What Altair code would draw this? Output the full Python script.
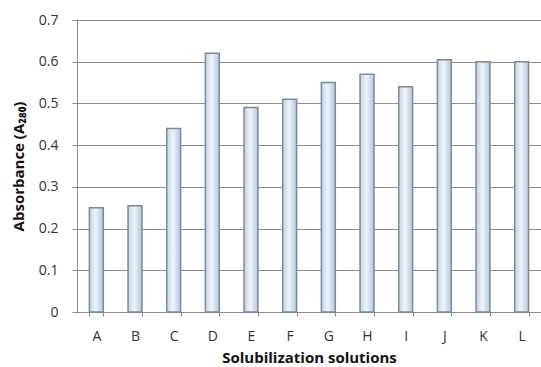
import altair as alt
import pandas as pd

categories = ["A", "B", "C", "D", "E", "F", "G", "H", "I", "J", "K", "L"]
values = [0.25, 0.255, 0.44, 0.62, 0.49, 0.51, 0.55, 0.57, 0.54, 0.605, 0.60, 0.60]
y_ticks = [0, 0.1, 0.2, 0.3, 0.4, 0.5, 0.6, 0.7]

df = pd.DataFrame({"cat": categories, "val": values})

FONT = "Open Sans"
grad = alt.LinearGradient(
    gradient="linear", x1=0, x2=1, y1=0, y2=0,
    stops=[
        alt.GradientStop(offset=0, color="#c3d2e6"),
        alt.GradientStop(offset=0.45, color="#eef3fa"),
        alt.GradientStop(offset=1, color="#b4c7df"),
    ],
)

chart = alt.Chart(df).mark_bar(
    color=grad, stroke="#7d8a98", strokeWidth=1.5
).encode(
    x=alt.X("cat:N", sort=categories,
            scale=alt.Scale(paddingInner=0.64, paddingOuter=0.32),
            axis=alt.Axis(title="Solubilization solutions", labelAngle=0,
                          tickBand="extent", tickSize=4, tickColor="#8c8c8c",
                          domainColor="#8c8c8c", labelPadding=13,
                          labelFont=FONT, labelFontSize=14, labelColor="#333333",
                          titleFont=FONT, titleFontSize=15, titleFontWeight="bold",
                          titleColor="#111111", titlePadding=7)),
    y=alt.Y("val:Q", scale=alt.Scale(domain=[0, 0.7], nice=False),
            axis=alt.Axis(title="Absorbance (A₂₈₀)", values=y_ticks, format=".1~f",
                          tickSize=5, tickColor="#8c8c8c", domainColor="#8c8c8c",
                          gridColor="#8c8c8c", labelPadding=14,
                          labelFont=FONT, labelFontSize=14, labelColor="#333333",
                          titleFont=FONT, titleFontSize=15, titleFontWeight="bold",
                          titleColor="#111111", titlePadding=12)),
).properties(
    width=464, height=292,
    autosize=alt.AutoSizeParams(type="none"),
    padding={"left": 77, "top": 20, "right": 0, "bottom": 55},
).configure_view(stroke=None).configure(background="white")

chart.save("out.html", embed_options={"renderer": "svg", "actions": False})
